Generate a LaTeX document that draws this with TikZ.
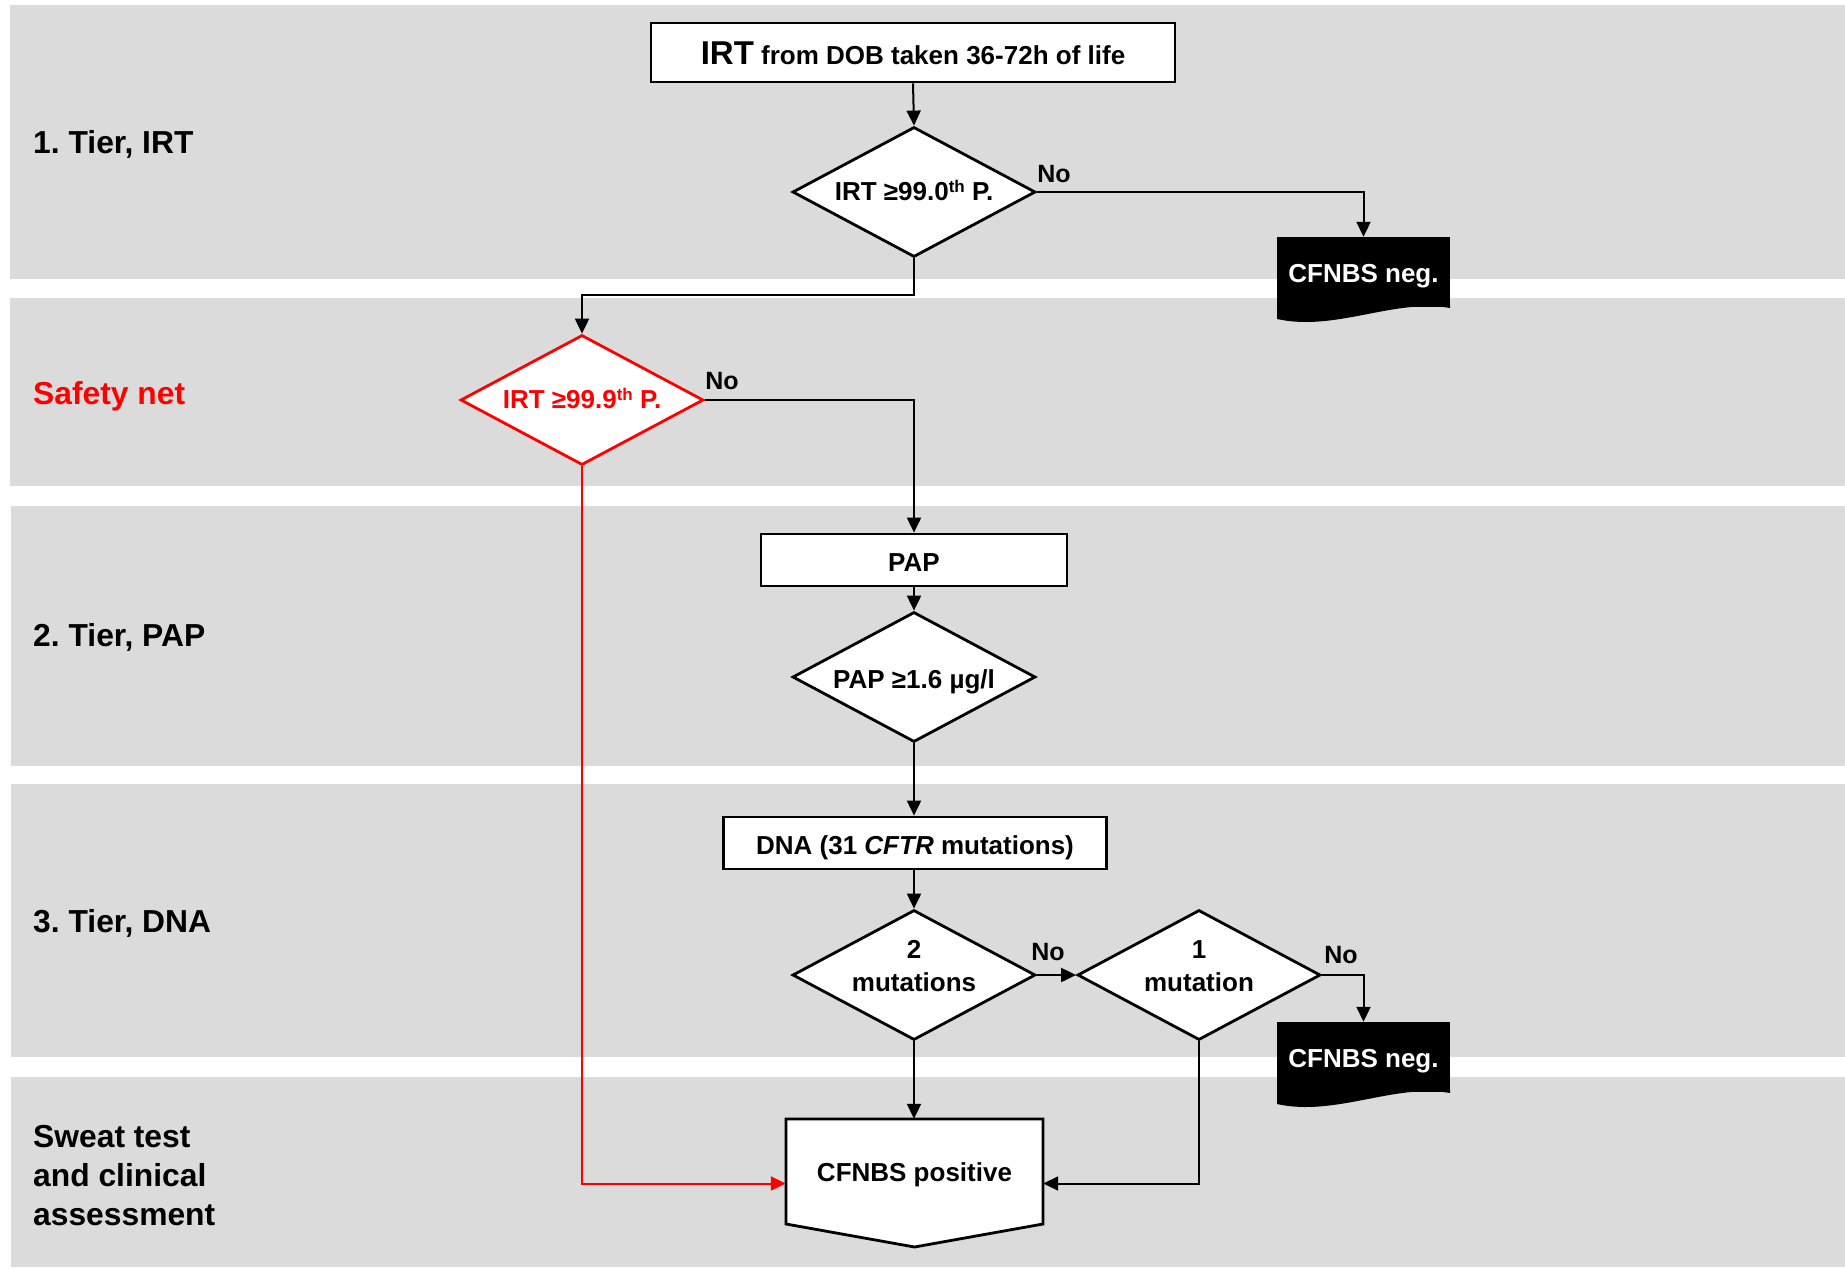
\documentclass[tikz,border=0pt]{standalone}
\usepackage{fontspec}
\setmainfont{Liberation Sans}
\usetikzlibrary{shapes.geometric,arrows.meta,calc}
\definecolor{bandgray}{RGB}{219,219,219}
\definecolor{netred}{RGB}{255,0,0}
\newcommand\setfs[2]{\fontsize{#1}{#2}\selectfont}
\newcommand\supth{\raisebox{8pt}[0pt][0pt]{\fontsize{17}{17}\selectfont th}}
\newcommand\down[2]{\raisebox{-#1}[\height][\depth]{#2}}
\begin{document}
\frenchspacing
\begin{tikzpicture}[x=1pt,y=-1pt,
  box/.style={draw, line width=2.8pt, fill=white, inner sep=0pt, font=\setfs{26}{31}\bfseries},
  dia/.style={diamond, draw, line width=2.8pt, fill=white, inner sep=0pt, aspect=1.87,
     minimum width=243pt, minimum height=130pt, align=center, font=\setfs{26}{33}\bfseries},
  dtext/.style={inner sep=0pt, align=center, font=\setfs{26}{33}\bfseries},
  arr/.style={line width=2pt, -{Triangle[length=15pt,width=14pt]}},
  neg/.style={fill=black, text=white, inner sep=0pt, minimum width=173pt, minimum height=70pt, font=\setfs{26}{31}\bfseries},
  nolab/.style={inner sep=0pt, font=\setfs{25}{30}\bfseries},
  lab/.style={inner sep=0pt, anchor=base west, font=\setfs{31.8}{38}\bfseries}]
\useasboundingbox (0,0) rectangle (1845,1269);
\fill[white] (0,0) rectangle (1845,1269);
% bands
\fill[bandgray] (10,5) rectangle (1845,279);
\fill[bandgray] (10,298) rectangle (1845,486);
\fill[bandgray] (11,506) rectangle (1845,766);
\fill[bandgray] (11,784) rectangle (1845,1057);
\fill[bandgray] (11,1077) rectangle (1845,1267);
% left labels
\node[lab] (l1) at (33,153) {1. Tier, IRT};
\node[lab, text=netred] (ls) at (33,404) {Safety net};
\node[lab] (l2) at (33,646) {2. Tier, PAP};
\node[lab] (l3) at (33,932) {3. Tier, DNA};
\node[lab] (sw1) at (33,1147) {Sweat test};
\node[lab] (sw2) at (33,1186) {and clinical};
\node[lab] (sw3) at (33,1225) {assessment};
% nodes
\node[box, minimum width=524pt, minimum height=59pt] (irt) at (913,52.5) {\down{0.5pt}{{\setfs{33}{40}IRT} from DOB taken 36-72h of life}};
\node[dia] (d1) at (914,192) {IRT ≥99.0\supth{} P.};
\node[neg] (neg1) at (1363.5,272) {\down{4.5pt}{CFNBS neg.}};
\fill[black] (1277,305) -- (1450,305) -- (1450,308) .. controls (1395,298) and (1335,332) .. (1277,319) -- cycle;
\node[dia, draw=netred, text=netred] (d2) at (582,400) {IRT ≥99.9\supth{} P.};
\node[box, minimum width=306pt, minimum height=52pt] (pap) at (914,560) {\down{2.5pt}{PAP}};
\node[dia] (d3) at (914,677) {\down{4.5pt}{PAP ≥1.6 µg/l}};
\node[box, minimum width=383pt, minimum height=52pt] (dna) at (915,843) {\down{4.5pt}{DNA (31 \textit{CFTR} mutations)}};
\node[dia] (d4) at (914,975) {};
\node[dtext] (t4) at (914,966) {2\\mutations};
\node[dia] (d5) at (1199,975) {};
\node[dtext] (t5) at (1199,966) {1\\mutation};
\node[neg] (neg2) at (1363.5,1057) {\down{4.5pt}{CFNBS neg.}};
\fill[black] (1277,1090) -- (1450,1090) -- (1450,1093) .. controls (1395,1083) and (1335,1117) .. (1277,1104) -- cycle;
\draw[line width=2.8pt, fill=white] (786,1119) -- (1043,1119) -- (1043,1224) -- (914.5,1247) -- (786,1224) -- cycle;
\node[inner sep=0pt, minimum width=257pt, minimum height=105pt, font=\setfs{26}{31}\bfseries] (pos) at (914.5,1171.5) {\down{3.5pt}{CFNBS positive}};
% No labels
\node[nolab] (n1) at (1054,174) {No};
\node[nolab] (n2) at (722,381) {No};
\node[nolab] (n3) at (1048,952) {No};
\node[nolab] (n4) at (1341,955) {No};
% connectors
\draw[arr] (irt.south) -- (d1.north);
\draw[arr] (d1.east) -| (neg1.north);
\draw[arr] (d1.south) -- ++(0,37) -| (d2.north);
\draw[arr] (d2.east) -| (pap.north);
\draw[arr, netred] (d2.south) |- ([yshift=-12pt]pos.west);
\draw[arr] (pap.south) -- (d3.north);
\draw[arr] (d3.south) -- (dna.north -| d3.south);
\draw[arr] (dna.south -| d4.north) -- (d4.north);
\draw[arr] (d4.east) -- (d5.west);
\draw[arr] (d5.east) -| (neg2.north);
\draw[arr] (d4.south) -- (pos.north -| d4.south);
\draw[arr] (d5.south) |- ([yshift=-12pt]pos.east);
\end{tikzpicture}
\end{document}
